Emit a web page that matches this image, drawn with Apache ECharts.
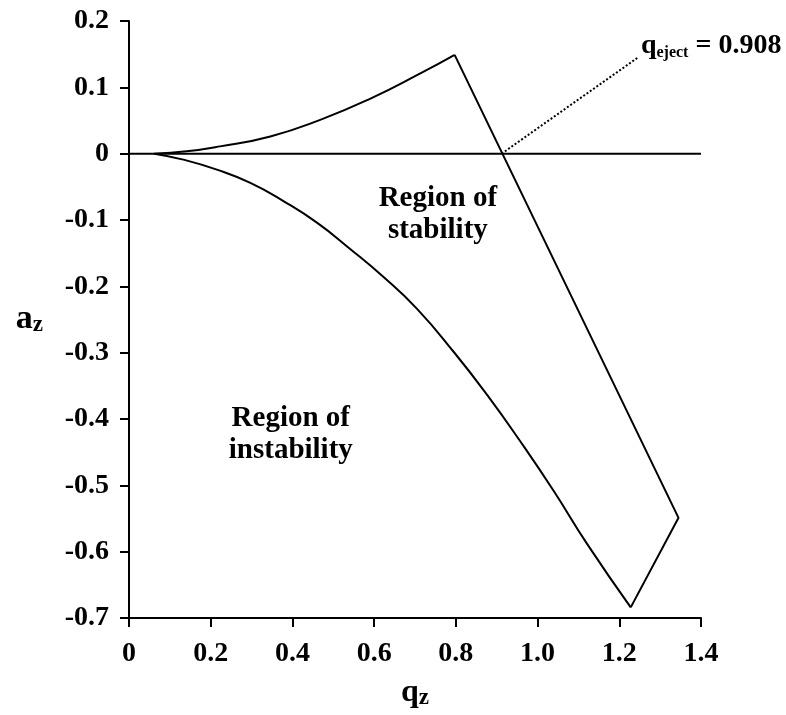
<!DOCTYPE html>
<html>
<head>
<meta charset="utf-8">
<script src="https://cdn.jsdelivr.net/npm/echarts@6/dist/echarts.min.js"></script>
<style>
html,body{margin:0;padding:0;background:#fff;}
#chart{width:786px;height:715px;}
</style>
</head>
<body>
<div id="chart"></div>
<script>
// q_z ticks and a_z ticks
const xTicks = [0, 0.2, 0.4, 0.6, 0.8, 1.0, 1.2, 1.4];
const yTicks = [-0.7, -0.6, -0.5, -0.4, -0.3, -0.2, -0.1, 0, 0.1, 0.2];

// upper boundary (a > 0)
const upperCurve = [[0.062, 0], [0.141, 0.0035], [0.223, 0.011], [0.346, 0.026], [0.468, 0.051], [0.591, 0.083], [0.713, 0.121], [0.797, 0.149]];
// straight boundary: apex -> right corner -> bottom tip
const rightEdge = [[0.797, 0.149], [1.345, -0.549], [1.228, -0.684]];
// lower boundary
const lowerCurve = [[0.062, 0], [0.133, -0.009], [0.215, -0.024], [0.297, -0.044], [0.378, -0.0715], [0.46, -0.104], [0.542, -0.144], [0.623, -0.186], [0.705, -0.234], [0.795, -0.299], [0.877, -0.364], [0.958, -0.434], [1.04, -0.509], [1.122, -0.589], [1.228, -0.684]];
// horizontal a_z = 0 line
const zeroLine = [[0, 0], [1.4, 0]];
// dotted leader to q_eject annotation
const leader = [[0.912, 0], [1.248, 0.146]];
const qEject = 0.908;
// text annotations [q, a, text]
const regionLabels = [[0.756, -0.091, 'Region of\nstability'], [0.396, -0.423, 'Region of\ninstability']];

const FONT = 'Liberation Serif';
const chart = echarts.init(document.getElementById('chart'));
const black = '#000';

chart.setOption({
  animation: false,
  backgroundColor: '#fff',
  grid: { left: 129, right: 85, top: 21, bottom: 92, containLabel: false },
  xAxis: {
    type: 'value', min: xTicks[0], max: xTicks[xTicks.length - 1], interval: 0.2,
    axisLine: { show: true, onZero: false, lineStyle: { color: black, width: 2 } },
    axisTick: { show: true, length: 9, lineStyle: { color: black, width: 2 } },
    splitLine: { show: false },
    axisLabel: {
      margin: 22, color: black, fontFamily: FONT, fontWeight: 'bold', fontSize: 28,
      formatter: v => (Math.abs(v) < 1e-9 ? '0' : v.toFixed(1))
    },
    name: '{q|q}{s|z}',
    nameLocation: 'middle', nameGap: 58,
    nameTextStyle: {
      rich: {
        q: { fontFamily: FONT, fontWeight: 'bold', fontSize: 32, lineHeight: 34, color: black },
        s: { fontFamily: FONT, fontWeight: 'bold', fontSize: 23, lineHeight: 14, verticalAlign: 'bottom', color: black }
      }
    }
  },
  yAxis: {
    type: 'value', min: yTicks[0], max: yTicks[yTicks.length - 1], interval: 0.1,
    axisLine: { show: true, onZero: false, lineStyle: { color: black, width: 2 } },
    axisTick: { show: true, length: 9, lineStyle: { color: black, width: 2 } },
    splitLine: { show: false },
    axisLabel: {
      margin: 20, color: black, fontFamily: FONT, fontWeight: 'bold', fontSize: 28,
      formatter: v => (Math.abs(v) < 1e-9 ? '0' : v.toFixed(1))
    },
    name: '{q|a}{s|z}',
    nameLocation: 'middle', nameRotate: 0, nameGap: 86,
    nameTextStyle: {
      rich: {
        q: { fontFamily: FONT, fontWeight: 'bold', fontSize: 34, lineHeight: 34, color: black },
        s: { fontFamily: FONT, fontWeight: 'bold', fontSize: 23, lineHeight: 14, verticalAlign: 'bottom', color: black }
      }
    }
  },
  series: [
    { type: 'line', data: zeroLine, symbol: 'none', lineStyle: { color: black, width: 2 }, silent: true },
    { type: 'line', data: upperCurve, smooth: 0.5, symbol: 'none', lineStyle: { color: black, width: 2 }, silent: true },
    { type: 'line', data: rightEdge, symbol: 'none', lineStyle: { color: black, width: 2 }, silent: true },
    { type: 'line', data: lowerCurve, smooth: 0.5, symbol: 'none', lineStyle: { color: black, width: 2 }, silent: true },
    { type: 'line', data: leader, symbol: 'none', lineStyle: { color: black, width: 2, type: [2, 2] }, silent: true },
    {
      type: 'scatter', symbolSize: 0, silent: true, itemStyle: { opacity: 1 },
      data: regionLabels.map(r => ({ value: [r[0], r[1]], text: r[2] })),
      label: {
        show: true, position: 'inside', color: black, opacity: 1, fontFamily: FONT, fontWeight: 'bold',
        fontSize: 29, lineHeight: 32, align: 'center',
        formatter: p => p.data.text
      }
    },
    {
      type: 'scatter', symbolSize: 0, silent: true, itemStyle: { opacity: 1 },
      data: [{ value: leader[1] }],
      label: {
        show: true, position: 'right', distance: 2, offset: [0, -11], opacity: 1,
        formatter: '{q|q}{s|eject}{t| = ' + qEject.toFixed(3) + '}',
        rich: {
          q: { fontFamily: FONT, fontWeight: 'bold', fontSize: 28, lineHeight: 30, color: black },
          s: { fontFamily: FONT, fontWeight: 'bold', fontSize: 16, lineHeight: 13, verticalAlign: 'bottom', color: black },
          t: { fontFamily: FONT, fontWeight: 'bold', fontSize: 28, lineHeight: 30, color: black }
        }
      }
    }
  ]
});
</script>
</body>
</html>
